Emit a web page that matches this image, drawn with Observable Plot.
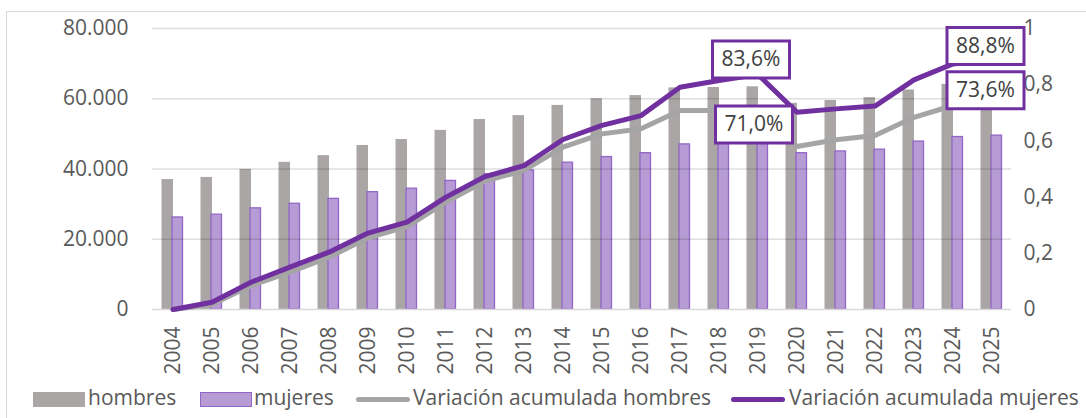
<!DOCTYPE html>
<html>
<head>
<meta charset="utf-8">
<script src="https://cdn.jsdelivr.net/npm/d3@7"></script>
<script src="https://cdn.jsdelivr.net/npm/@observablehq/plot@0.6"></script>
<style>
  html, body { margin: 0; padding: 0; background: #fff; }
  #wrap { position: relative; width: 1086px; height: 418px; overflow: hidden; font-family: "Open Sans", sans-serif; }
  #frame { position: absolute; left: 6px; top: 11px; width: 1200px; height: 500px; border-left: 1px solid #d9d9d9; border-top: 1px solid #d9d9d9; pointer-events: none; }
  #chart { position: absolute; left: 0; top: 0; }
  .lg { position: absolute; font-size: 21px; color: #595959; line-height: 1; white-space: nowrap; }
  .sw { position: absolute; }
</style>
</head>
<body>
<div id="wrap">
  <div id="chart"></div>
  <div id="legend"></div>
  <div id="frame"></div>
</div>
<script>
// ---- data ----
const years = ["2004","2005","2006","2007","2008","2009","2010","2011","2012","2013","2014","2015","2016","2017","2018","2019","2020","2021","2022","2023","2024","2025"];
const hombres = [37000, 37600, 39900, 41900, 43800, 46700, 48400, 51000, 54100, 55200, 58100, 60000, 60900, 63100, 63200, 63400, 58700, 59500, 60300, 62500, 64100, 64200];
const mujeres = [26200, 27000, 28800, 30100, 31500, 33400, 34400, 36600, 38500, 39600, 41800, 43400, 44500, 47000, 47600, 48100, 44500, 45000, 45500, 47800, 49100, 49500];
const varHombres = [0, 0.018, 0.085, 0.133, 0.186, 0.255, 0.295, 0.382, 0.457, 0.495, 0.578, 0.625, 0.643, 0.708, 0.708, 0.710, 0.580, 0.604, 0.619, 0.684, 0.726, 0.736];
const varMujeres = [0, 0.026, 0.097, 0.151, 0.204, 0.272, 0.311, 0.400, 0.473, 0.512, 0.605, 0.655, 0.690, 0.791, 0.815, 0.836, 0.702, 0.714, 0.724, 0.817, 0.874, 0.888];
const leftTicks = [0, 20000, 40000, 60000, 80000];
const rightTicks = [0, 0.2, 0.4, 0.6, 0.8, 1];
const labelYears = ["2019", "2019", "2025", "2025"];
const labelSeries = ["mujeres", "hombres", "mujeres", "hombres"];
const labelValues = [0.836, 0.710, 0.888, 0.736];
const seriesNames = ["hombres", "mujeres", "Variación acumulada hombres", "Variación acumulada mujeres"];

// ---- styling ----
const C_GRAY_BAR = "#aaa6a5";
const C_PURPLE_BAR = "#b79bd4";
const C_PURPLE_EDGE = "#9266c6";
const C_GRAY_LINE = "#a5a5a5";
const C_PURPLE_LINE = "#7030a0";
const YMAX = 80000; // left axis max; right axis 0..1 maps onto it

const loc = d3.formatLocale({decimal: ",", thousands: ".", grouping: [3], currency: ["", "€"]});
const fmtInt = loc.format(",.0f");
const fmtDec = v => v === 0 ? "0" : v === 1 ? "1" : loc.format(".1f")(v);
const fmtPct = v => loc.format(".1f")(v * 100) + "%";

const barsH = years.map((y, i) => ({year: y, v: hombres[i]}));
const barsM = years.map((y, i) => ({year: y, v: mujeres[i]}));
const lineH = years.map((y, i) => ({year: y, v: varHombres[i] * YMAX}));
const lineM = years.map((y, i) => ({year: y, v: varMujeres[i] * YMAX}));

// label offsets (px) relative to data point
const offs = {
  "2019|mujeres": [-7, -15],
  "2019|hombres": [-4, 14.5],
  "2025|mujeres": [-6.5, -14],
  "2025|hombres": [-6.5, -12.5]
};
const labels = labelYears.map((y, i) => {
  const o = offs[y + "|" + labelSeries[i]];
  return {year: y, v: labelValues[i] * YMAX, text: fmtPct(labelValues[i]), dx: o[0], dy: o[1]};
});
const boxSymbol = { draw(ctx) { ctx.rect(-38.5, -18.5, 77, 37); } };

function shift(sel) {
  return (index, scales, values, dims, ctx, next) => {
    const g = next(index, scales, values, dims, ctx);
    d3.select(g).selectAll(sel).each(function(_, j) {
      const d = labels[index[j]];
      const t = d3.select(this).attr("transform");
      d3.select(this).attr("transform", (t ? t + " " : "") + `translate(${d.dx},${d.dy})`);
    });
    return g;
  };
}

const W = 1086, H = 380;
const plot = Plot.plot({
  width: W,
  height: H,
  marginLeft: 152,
  marginRight: 75,
  marginTop: 28,
  marginBottom: H - 309,
  style: {background: "transparent", fontFamily: "Open Sans, sans-serif", fontSize: "20px", color: "#595959", overflow: "visible"},
  x: {type: "band", domain: years, padding: 0, label: null},
  y: {domain: [0, YMAX], label: null},
  marks: [
    Plot.barY(barsH, {x: "year", y: "v", fill: C_GRAY_BAR, insetLeft: 8.5, insetRight: 19}),
    Plot.barY(barsM, {x: "year", y: "v", fill: C_PURPLE_BAR, stroke: C_PURPLE_EDGE, strokeWidth: 1.3, insetLeft: 19, insetRight: 9.5}),
    Plot.gridY(leftTicks.filter(d => d > 0), {stroke: "#000", strokeOpacity: 0.13, strokeWidth: 1.6}),
    Plot.ruleY([0], {stroke: "#d9d9d9", strokeWidth: 1.6}),
    Plot.axisY({ticks: leftTicks, tickFormat: fmtInt, tickSize: 0, tickPadding: 24, anchor: "left", fontSize: 21, fill: "#595959", label: null}),
    Plot.axisY({ticks: rightTicks.map(t => t * YMAX), tickFormat: d => fmtDec(d / YMAX), tickSize: 0, tickPadding: 12, anchor: "right", fontSize: 21, fill: "#595959", label: null}),
    Plot.axisX({tickRotate: -90, tickSize: 0, tickPadding: 17, fontSize: 21, fill: "#595959", label: null}),
    Plot.lineY(lineH, {x: "year", y: "v", stroke: C_GRAY_LINE, strokeWidth: 5, strokeLinejoin: "round", strokeLinecap: "round"}),
    Plot.lineY(lineM, {x: "year", y: "v", stroke: C_PURPLE_LINE, strokeWidth: 5, strokeLinejoin: "round", strokeLinecap: "round"}),
    Plot.dot(labels, {x: "year", y: "v", symbol: boxSymbol, r: 10, fill: "#fff", stroke: C_PURPLE_LINE, strokeWidth: 3, render: shift("path")}),
    Plot.text(labels, {x: "year", y: "v", text: "text", fontSize: 21, fill: "#404040", render: shift("text")})
  ]
});
document.getElementById("chart").appendChild(plot);

// ---- legend ----
const lg = document.getElementById("legend");
const items = [
  {kind: "bar", fill: C_GRAY_BAR, stroke: null, sx: 33, tx: 88},
  {kind: "bar", fill: C_PURPLE_BAR, stroke: C_PURPLE_EDGE, sx: 200, tx: 254},
  {kind: "line", stroke: C_GRAY_LINE, sx: 356, tx: 413},
  {kind: "line", stroke: C_PURPLE_LINE, sx: 731, tx: 789}
];
items.forEach((it, i) => {
  const s = document.createElement("div");
  s.className = "sw";
  if (it.kind === "bar") {
    Object.assign(s.style, {left: it.sx + "px", top: "392px", width: "52px", height: "15px", background: it.fill, boxSizing: "border-box", border: it.stroke ? `1.5px solid ${it.stroke}` : "none"});
  } else {
    Object.assign(s.style, {left: it.sx + "px", top: "397px", width: "54px", height: "5px", background: it.stroke, borderRadius: "3px"});
  }
  lg.appendChild(s);
  const t = document.createElement("div");
  t.className = "lg";
  t.textContent = seriesNames[i];
  Object.assign(t.style, {left: it.tx + "px", top: "387px"});
  lg.appendChild(t);
});
</script>
</body>
</html>
